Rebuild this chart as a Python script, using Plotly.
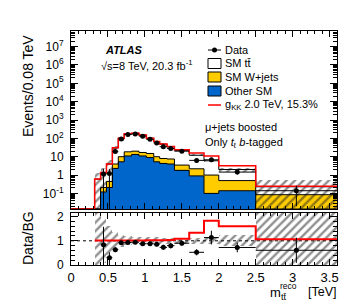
import numpy as np
import plotly.graph_objects as go

# ---------------- data ----------------
bin_edges = [0.0, 0.32, 0.40, 0.48, 0.56, 0.64, 0.72, 0.82, 0.92, 1.02, 1.12,
             1.20, 1.30, 1.40, 1.60, 1.80, 2.00, 2.50, 3.60]
sm_ttbar = [0, 0.6, 1.14, 3.55, 26.0, 90.0, 156.5, 165.0, 133.0, 85.0, 55.0,
            40.0, 27.5, 18.7, 9.8, 5.0, 1.5, 0.145]
sm_wjets = [0, 0, 0.09, 0.24, 1.7, 4.7, 7.5, 6.7, 6.0, 6.0, 4.7,
            3.7, 3.5, 1.7, 1.3, 0.9, 0.36, 0.085]
other_sm = [0, 0, 0.12, 0.21, 2.3, 5.3, 11.0, 13.3, 11.0, 9.0, 5.3,
            4.3, 4.0, 1.8, 0.9, 0.1, 0.14, 0]
signal_gkk = [0, 0.01, 0.02, 0.05, 0.3, 1.0, 2.0, 2.5, 2.5, 2.0, 1.5,
              1.2, 1.3, 2.0, 4.0, 5.0, 1.2, 0.016]
bg_rel_unc = [0, 1.2, 0.9, 0.6, 0.35, 0.25, 0.18, 0.15, 0.15, 0.14, 0.14,
              0.13, 0.13, 0.12, 0.12, 0.15, 0.22, 1.2]
data_vals = [None, None, 1.13, 1.2, 19, 92, 163, 174, 132, 88, 56,
             35, 28, 20, 6.3, 6.8, 1.45, 0.14]
data_err_up = [None, None, 1.0, 0.9, 3, 8, 12, 12, 10, 8, 6,
               5, 4, 2.5, 1.5, 1.7, 0.4, 0.12]
data_err_down = [None, None, 1.13, 1.2, 3, 8, 12, 12, 10, 8, 6,
                 5, 4, 2.5, 1.5, 1.7, 0.4, 0.12]

y_log_range = [-1.85, 7.85]
ratio_range = [0, 2.15]
x_range = [0, 3.6]

# ---------------- derived ----------------
e = np.array(bin_edges)
centers = (e[:-1] + e[1:]) / 2
widths = np.diff(e)
tt = np.array(sm_ttbar, float)
wj = np.array(sm_wjets, float)
ot = np.array(other_sm, float)
sig = np.array(signal_gkk, float)
unc = np.array(bg_rel_unc, float)
cum_other = ot
cum_w = ot + wj
total = cum_w + tt
floor = 10 ** y_log_range[0]

YELLOW = "#FFCC00"
BLUE = "#0066CC"
RED = "#FF0000"
FONT = "Liberation Sans, Arial, sans-serif"
HATCH = dict(shape="/", fgcolor="#1e1e1e", bgcolor="rgba(0,0,0,0)",
             size=6, solidity=0.4, fillmode="overlay")


def step(vals):
    v = np.maximum(np.asarray(vals, float), floor)
    return list(v) + [v[-1]]


fig = go.Figure()

# stacked fills
fig.add_trace(go.Bar(x=centers, y=np.where(cum_w > 0, cum_w, None), width=widths,
                     marker=dict(color=YELLOW, line=dict(width=0)), xaxis="x", yaxis="y"))
fig.add_trace(go.Bar(x=centers, y=np.where(cum_other > 0, cum_other, None), width=widths,
                     marker=dict(color=BLUE, line=dict(width=0)), xaxis="x", yaxis="y"))

# uncertainty hatch (main)
lo = np.maximum(total * (1 - unc), floor * 0.5)
hi = total * (1 + unc)
valid = total > 0
fig.add_trace(go.Bar(x=centers[valid], y=(hi - lo)[valid], base=lo[valid], width=widths[valid],
                     marker=dict(color="rgba(0,0,0,0)", line=dict(width=0), pattern=HATCH),
                     xaxis="x", yaxis="y"))

# uncertainty hatch (ratio)
fig.add_trace(go.Bar(x=centers[valid], y=(2 * unc)[valid], base=(1 - unc)[valid], width=widths[valid],
                     marker=dict(color="rgba(0,0,0,0)", line=dict(width=0), pattern=HATCH),
                     xaxis="x2", yaxis="y2"))

# outlines
for vals in (cum_other, cum_w, total):
    fig.add_trace(go.Scatter(x=e, y=step(vals), mode="lines", line_shape="hv",
                             line=dict(color="black", width=1), xaxis="x", yaxis="y"))
# signal + bg
fig.add_trace(go.Scatter(x=e, y=step(total + sig), mode="lines", line_shape="hv",
                         line=dict(color=RED, width=1.5), xaxis="x", yaxis="y"))

# data points (main)
dmask = np.array([d is not None for d in data_vals])
dv = np.array([d for d in data_vals if d is not None], float)
deu = np.array([d for d in data_err_up if d is not None], float)
ded = np.array([d for d in data_err_down if d is not None], float)
ded_plot = np.where(ded >= dv, dv - floor * 0.3, ded)
fig.add_trace(go.Scatter(x=centers[dmask], y=dv, mode="markers",
                         marker=dict(color="black", size=5),
                         error_y=dict(type="data", symmetric=False, array=deu, arrayminus=ded_plot,
                                      thickness=1, width=0, color="black"),
                         error_x=dict(type="data", array=widths[dmask] / 2, thickness=1, width=0,
                                      color="black"),
                         xaxis="x", yaxis="y"))

# ratio panel
ratio_sig = np.where(valid, (total + sig) / np.where(valid, total, 1), np.nan)
rs = list(ratio_sig[1:]) + [ratio_sig[-1]]
fig.add_trace(go.Scatter(x=e[1:], y=rs, mode="lines", line_shape="hv",
                         line=dict(color=RED, width=2), xaxis="x2", yaxis="y2"))
rd = dv / total[dmask]
fig.add_trace(go.Scatter(x=centers[dmask], y=rd, mode="markers",
                         marker=dict(color="black", size=5),
                         error_y=dict(type="data", symmetric=False, array=deu / total[dmask],
                                      arrayminus=ded / total[dmask], thickness=1, width=0,
                                      color="black"),
                         error_x=dict(type="data", array=widths[dmask] / 2, thickness=1, width=0,
                                      color="black"),
                         xaxis="x2", yaxis="y2"))

# ---------------- layout ----------------
L, R, T, B, W, H = 63, 28, 23, 45, 357, 302
PW, PH = W - L - R, H - T - B


def PX(px):
    return (px - L) / PW


def PY(py):
    return (H - B - py) / PH


main_dom = [PY(201), 1]
ratio_dom = [0, PY(205)]

log_major = [10.0 ** k for k in range(-1, 8)]
log_text = ["10<sup>-1</sup>", "1", "10"] + ["10<sup>%d</sup>" % k for k in range(2, 8)]
log_minor = [m * 10.0 ** k for k in range(-2, 8) for m in range(2, 10)]

axis_common = dict(showline=True, linecolor="black", linewidth=1, mirror="allticks",
                   ticks="inside", showgrid=False, zeroline=False, tickcolor="black")

fig.update_layout(
    width=W, height=H, margin=dict(l=L, r=R, t=T, b=B),
    paper_bgcolor="white", plot_bgcolor="white", showlegend=False,
    barmode="overlay", bargap=0,
    font=dict(family=FONT, color="black", size=12),
    xaxis=dict(domain=[0, 1], anchor="y", range=x_range, showticklabels=False,
               tick0=0, dtick=0.5, ticklen=6,
               minor=dict(ticks="inside", ticklen=3, dtick=0.1, showgrid=False), **axis_common),
    yaxis=dict(domain=main_dom, anchor="x", type="log", range=y_log_range,
               tickmode="array", tickvals=log_major, ticktext=log_text, ticklen=7,
               tickfont=dict(size=12), ticklabelstandoff=4,
               minor=dict(ticks="inside", ticklen=4, tickmode="array", tickvals=log_minor,
                          showgrid=False), **axis_common),
    xaxis2=dict(domain=[0, 1], anchor="y2", range=x_range, matches="x",
                tick0=0, dtick=0.5, ticklen=6, tickfont=dict(size=13),
                minor=dict(ticks="inside", ticklen=3, dtick=0.1, showgrid=False), **axis_common),
    yaxis2=dict(domain=ratio_dom, anchor="x2", range=ratio_range, tick0=0, dtick=1, ticklen=7,
                tickfont=dict(size=12), ticklabelstandoff=4,
                minor=dict(ticks="inside", ticklen=4, dtick=0.2, showgrid=False), **axis_common),
)

# dotted reference line at 1 in ratio
fig.add_shape(type="line", xref="x2", yref="y2", x0=x_range[0], x1=x_range[1], y0=1, y1=1,
              line=dict(color="black", width=1, dash="dot"), layer="below")

ann = []


def text(px, py, s, size=11, xanchor="left", angle=0, yanchor="middle"):
    ann.append(dict(x=PX(px), y=PY(py), xref="paper", yref="paper", text=s, showarrow=False,
                    xanchor=xanchor, yanchor=yanchor, textangle=angle, borderpad=0,
                    font=dict(family=FONT, size=size, color="black")))


text(20, 78, "Events/0.08 TeV", size=14, xanchor="center", angle=-90)
text(20, 230, "Data/BG", size=14, xanchor="center", angle=-90)
text(96, 42, "<b><i>ATLAS</i></b>", size=11)
text(92, 57, "\u221As=8 TeV, 20.3 fb<sup>-1</sup>", size=11)
text(216, 42, "Data", size=11)
text(216, 55.5, "SM tt\u0304", size=11)
text(216, 69, "SM W+jets", size=11)
text(216, 83, "Other SM", size=11)
text(216, 97, "g<sub>KK</sub> 2.0 TeV, 15.3%", size=11)
text(196, 119, "\u03bc+jets boosted", size=11)
text(196, 135, "Only <i>t</i><sub>\u2113</sub> <i>b</i>-tagged", size=11)
# x title
text(261, 284, "m", size=13)
text(271, 277.5, "reco", size=8.5)
text(272, 289, "tt\u0304", size=9)
text(330, 284, "[TeV]", size=12.5, xanchor="right")
fig.update_layout(annotations=ann)


# legend keys
def rect(x0, y0, x1, y1, fill):
    fig.add_shape(type="rect", xref="paper", yref="paper", x0=PX(x0), x1=PX(x1),
                  y0=PY(y1), y1=PY(y0), fillcolor=fill, line=dict(color="black", width=1))


fig.add_shape(type="line", xref="paper", yref="paper", x0=PX(200), x1=PX(213),
              y0=PY(42), y1=PY(42), line=dict(color="black", width=1))
fig.add_shape(type="circle", xref="paper", yref="paper", x0=PX(204), x1=PX(209),
              y0=PY(44.5), y1=PY(39.5), fillcolor="black", line=dict(color="black", width=0))
rect(200, 50.5, 213, 60.5, "white")
rect(200, 64, 213, 74, YELLOW)
rect(200, 78, 213, 88, BLUE)
fig.add_shape(type="line", xref="paper", yref="paper", x0=PX(200), x1=PX(213),
              y0=PY(97), y1=PY(97), line=dict(color=RED, width=1.5))

fig.write_html("out.html")
